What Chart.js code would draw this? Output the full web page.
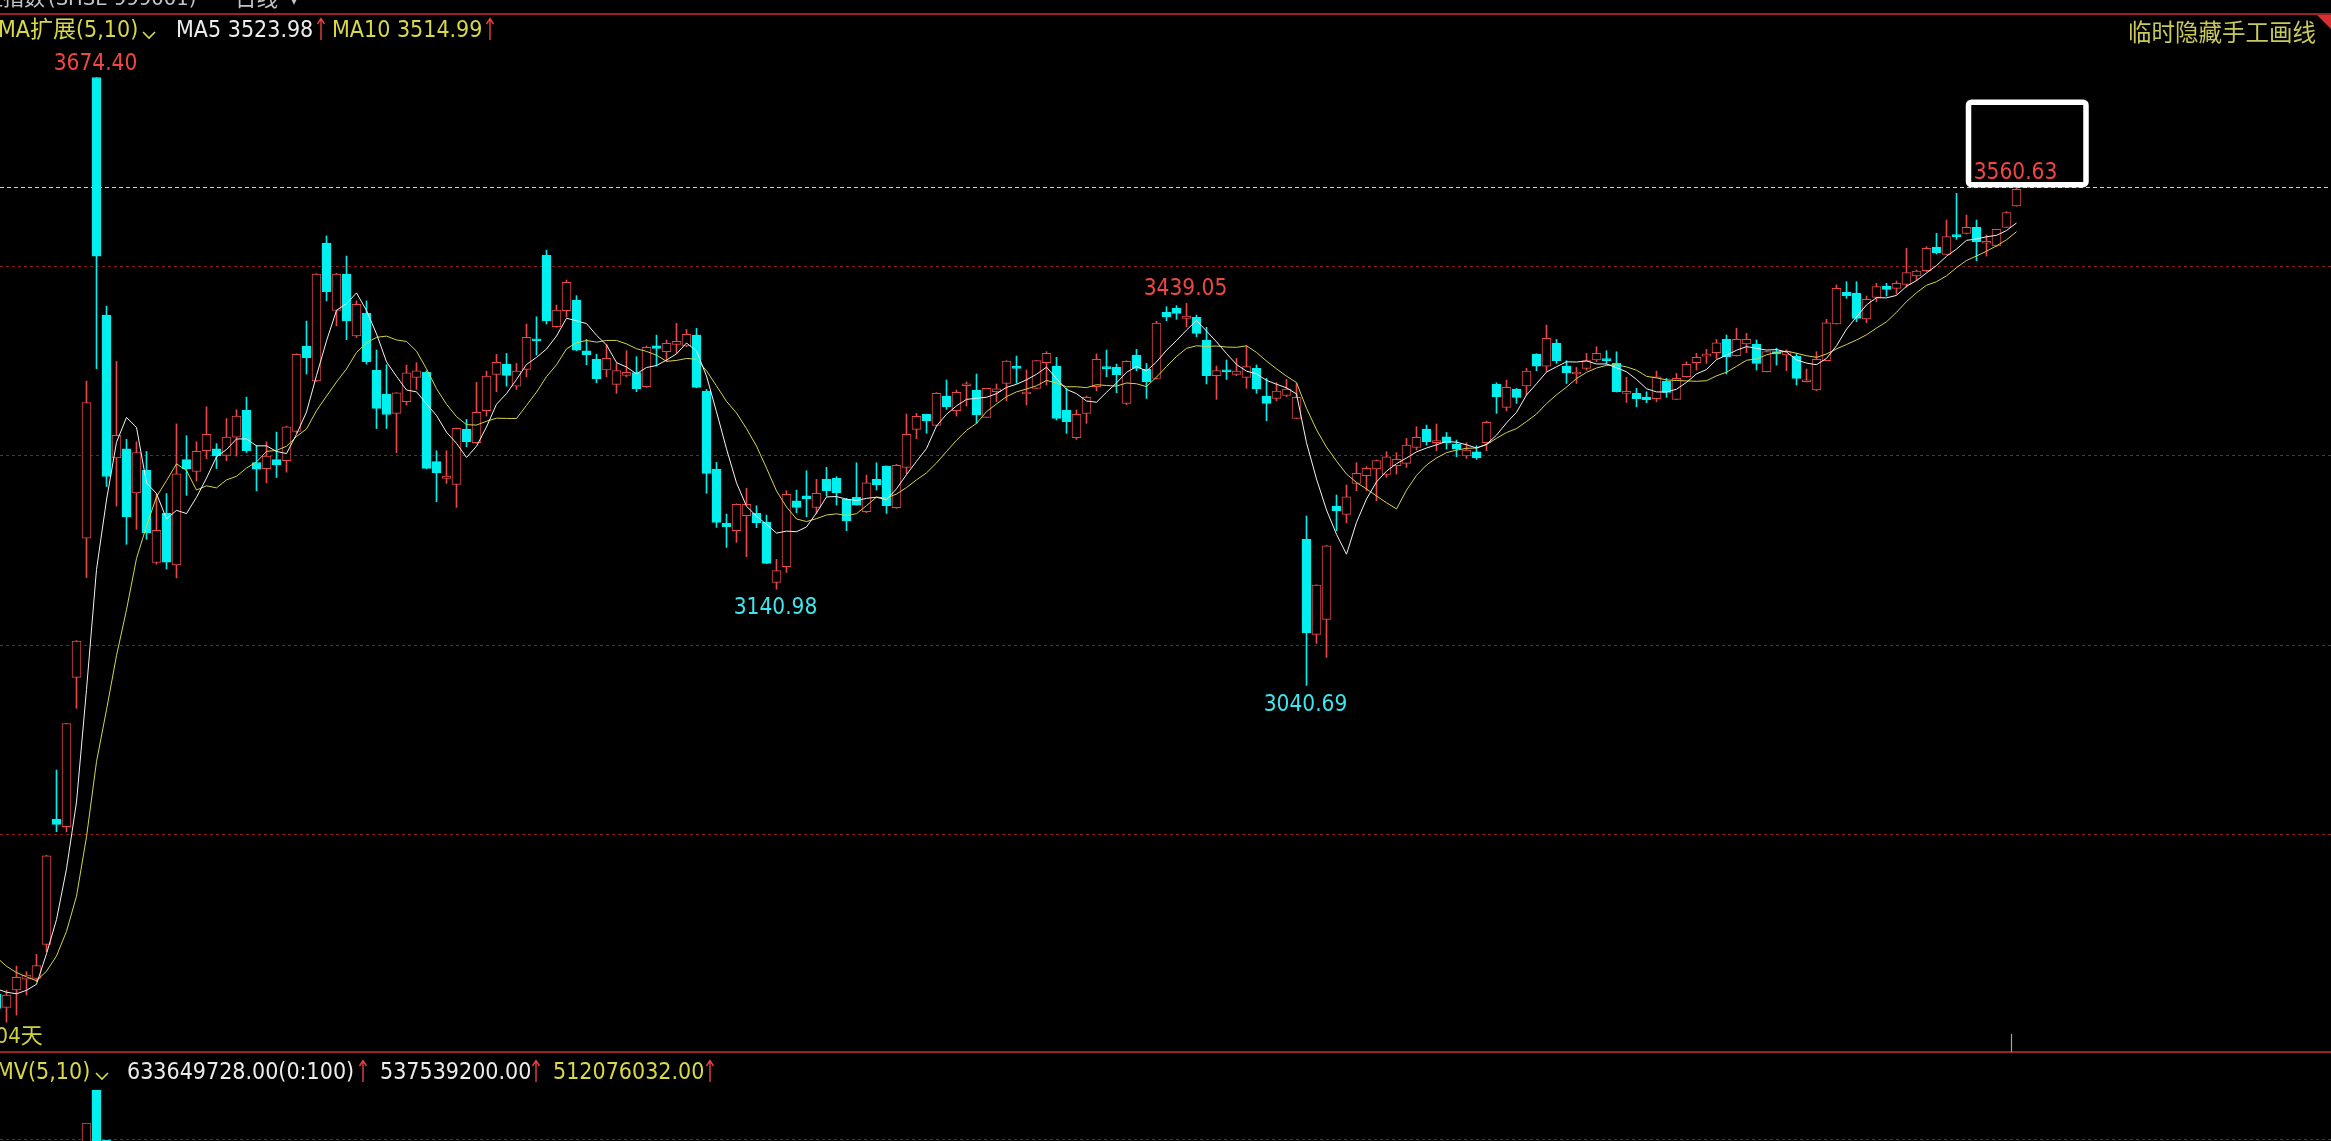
<!DOCTYPE html>
<html lang="zh-CN">
<head>
<meta charset="utf-8">
<script src="https://cdn.jsdelivr.net/npm/chart.js@4.4.1/dist/chart.umd.min.js"></script>
<style>
  html, body { margin: 0; padding: 0; background: #000; }
  body { width: 2331px; height: 1141px; overflow: hidden; position: relative; }
  .t { position: absolute; white-space: pre; line-height: 1;
       font-family: "DejaVu Sans Condensed", "DejaVu Sans", "Noto Sans CJK SC", sans-serif;
       font-stretch: condensed; }
  .wide { font-family: "DejaVu Sans", "Noto Sans CJK SC", sans-serif; font-stretch: normal; }
  .hline { position: absolute; left: 0; width: 2331px; }
  #mainBox { position: absolute; left: 0; top: 15px; width: 2331px; height: 1037px; }
  #volBox { position: absolute; left: 0; top: 1082px; width: 2331px; height: 296px; }
</style>
</head>
<body>
<div class="hline" style="top:13px;height:2px;background:#9a2222"></div>
<div class="hline" style="top:1051px;height:2px;background:#9a2222"></div>
<svg style="position:absolute;left:2317px;top:15px" width="14" height="14"><polygon points="0,0 14,0 14,14" fill="#d83030"/></svg>
<div id="mainBox"><canvas id="kline" width="2331" height="1037"></canvas></div>
<div id="volBox"><canvas id="vol" width="2331" height="296"></canvas></div>
<script>
// daily candles, index 0 = the half hidden one on the left edge
const prevCloses = [2811, 2802, 2784, 2788, 2765, 2736, 2744, 2721, 2717];

const opens = [
  2719, 2705.1, 2723.1, 2734.3, 2735.3, 2770.7, 2901.1, 2893.4, 3049.1, 3194.1,
  3674.4, 3426.8, 3277.9, 3287.2, 3241.4, 3264.9, 3168.8, 3220.2, 3166.2, 3276.0,
  3263.8, 3285.3, 3287.2, 3280.5, 3299.5, 3327.4, 3273.1, 3266.7, 3276.0, 3274.9,
  3305.4, 3394.4, 3358.1, 3501.7, 3431.5, 3469.6, 3405.0, 3428.6, 3369.2, 3344.3,
  3324.3, 3336.4, 3361.8, 3367.0, 3273.9, 3256.5, 3250.2, 3307.6, 3293.7, 3327.0,
  3364.9, 3375.7, 3352.7, 3370.1, 3402.1, 3489.0, 3414.6, 3431.3, 3442.4, 3389.4,
  3380.9, 3369.5, 3354.5, 3363.9, 3366.7, 3352.1, 3394.8, 3388.6, 3396.2, 3394.5,
  3405.9, 3347.6, 3265.9, 3209.6, 3201.9, 3217.6, 3220.0, 3210.6, 3148.1, 3164.4,
  3233.2, 3238.4, 3226.3, 3255.5, 3256.5, 3234.6, 3236.7, 3221.8, 3255.5, 3269.4,
  3225.9, 3268.0, 3307.6, 3323.3, 3311.8, 3342.4, 3327.1, 3353.1, 3348.6, 3320.1,
  3346.9, 3355.6, 3373.0, 3344.5, 3350.4, 3377.1, 3373.6, 3327.8, 3298.9, 3324.3,
  3352.1, 3372.6, 3372.3, 3334.7, 3385.1, 3370.2, 3360.6, 3429.6, 3433.8, 3423.3,
  3424.4, 3400.8, 3363.6, 3369.5, 3365.0, 3361.8, 3371.2, 3342.4, 3339.9, 3343.1,
  3319.1, 3193.0, 3093.9, 3109.6, 3227.7, 3219.0, 3251.3, 3259.3, 3266.3, 3260.7,
  3269.7, 3272.2, 3288.9, 3308.0, 3293.7, 3299.9, 3292.0, 3279.8, 3284.3, 3293.7,
  3354.8, 3330.5, 3349.6, 3352.8, 3386.1, 3373.6, 3397.2, 3373.6, 3365.3, 3371.2,
  3379.9, 3380.6, 3376.4, 3345.1, 3345.1, 3341.3, 3339.5, 3358.0, 3338.8, 3362.5,
  3377.1, 3384.0, 3387.5, 3401.5, 3384.4, 3396.6, 3396.6, 3367.8, 3388.6, 3385.1,
  3384.1, 3357.3, 3348.7, 3379.2, 3417.5, 3450.5, 3449.4, 3422.7, 3445.3, 3457.1,
  3454.6, 3458.8, 3467.5, 3473.1, 3497.4, 3490.1, 3509.9, 3512.0, 3518.2, 3501.6,
  3498.8, 3518.2, 3540.5
];
const highs = [
  2722, 2723.1, 2748.1, 2742.2, 2760.3, 2863.5, 2952.5, 3001.1, 3087.5, 3357.9,
  3674.4, 3436.1, 3378.4, 3297.3, 3294.7, 3284.6, 3240.7, 3240.7, 3313.3, 3301.0,
  3294.7, 3331.1, 3292.8, 3318.9, 3328.1, 3341.2, 3290.9, 3294.7, 3304.7, 3311.0,
  3386.5, 3420.5, 3470.0, 3509.3, 3470.3, 3488.3, 3441.5, 3441.5, 3390.3, 3375.0,
  3345.8, 3374.6, 3377.1, 3368.7, 3285.3, 3285.3, 3309.0, 3318.0, 3356.6, 3368.4,
  3385.8, 3386.8, 3376.4, 3417.4, 3425.0, 3494.5, 3437.2, 3463.3, 3447.0, 3401.4,
  3386.0, 3396.2, 3376.4, 3389.6, 3383.4, 3394.5, 3405.9, 3400.7, 3418.1, 3411.8,
  3412.9, 3349.3, 3273.2, 3219.3, 3230.0, 3246.1, 3228.0, 3218.3, 3172.1, 3243.7,
  3244.3, 3264.5, 3255.5, 3268.0, 3258.3, 3235.7, 3272.8, 3260.0, 3272.8, 3269.6,
  3271.1, 3323.6, 3324.3, 3323.5, 3345.9, 3359.1, 3348.6, 3357.0, 3365.3, 3350.6,
  3354.9, 3379.3, 3384.1, 3369.5, 3379.5, 3388.6, 3382.7, 3350.4, 3327.8, 3342.4,
  3386.2, 3390.3, 3375.7, 3379.2, 3391.0, 3376.4, 3420.4, 3435.5, 3436.6, 3439.05,
  3426.8, 3414.0, 3373.6, 3379.9, 3381.6, 3394.5, 3374.7, 3360.8, 3356.3, 3359.7,
  3355.6, 3217.3, 3145.6, 3186.6, 3239.2, 3249.6, 3272.9, 3268.7, 3275.7, 3284.3,
  3283.3, 3298.2, 3310.4, 3312.1, 3313.2, 3304.4, 3296.5, 3293.7, 3290.5, 3316.3,
  3356.2, 3359.0, 3350.3, 3371.2, 3386.5, 3416.3, 3401.4, 3379.2, 3372.2, 3386.8,
  3393.8, 3389.6, 3388.5, 3361.8, 3350.3, 3346.8, 3368.4, 3360.7, 3365.9, 3378.1,
  3386.8, 3391.0, 3401.4, 3406.0, 3412.9, 3407.7, 3400.8, 3388.9, 3392.1, 3390.4,
  3386.9, 3370.5, 3388.6, 3422.3, 3458.1, 3461.6, 3461.6, 3446.6, 3459.9, 3459.9,
  3462.3, 3496.3, 3473.8, 3498.1, 3512.0, 3525.9, 3553.7, 3531.1, 3525.9, 3510.2,
  3516.3, 3534.6, 3560.63
];
const lows = [
  2701, 2689.7, 2697.0, 2717.9, 2731.8, 2763.0, 2888.2, 2888.0, 3016.8, 3153.2,
  3371.0, 3248.1, 3227.6, 3187.8, 3203.5, 3193.0, 3167.0, 3162.0, 3152.8, 3238.8,
  3253.7, 3277.1, 3266.7, 3274.9, 3279.8, 3283.5, 3243.6, 3251.8, 3257.4, 3263.0,
  3303.9, 3365.3, 3357.5, 3441.7, 3415.5, 3401.1, 3403.4, 3375.6, 3308.4, 3308.5,
  3283.3, 3332.9, 3349.3, 3266.5, 3232.2, 3251.3, 3226.3, 3289.5, 3293.0, 3321.5,
  3346.8, 3352.7, 3349.3, 3362.5, 3385.1, 3417.4, 3414.0, 3425.0, 3389.5, 3375.0,
  3356.2, 3362.5, 3345.1, 3362.5, 3346.9, 3351.4, 3373.6, 3378.1, 3386.8, 3393.8,
  3351.0, 3240.9, 3205.4, 3184.6, 3189.8, 3174.8, 3205.1, 3167.5, 3140.98, 3158.5,
  3220.7, 3216.5, 3220.0, 3238.1, 3228.7, 3202.0, 3228.5, 3220.7, 3244.4, 3220.0,
  3225.3, 3261.0, 3297.9, 3303.5, 3311.1, 3328.5, 3321.5, 3331.9, 3313.9, 3319.8,
  3336.5, 3337.5, 3355.6, 3333.0, 3350.0, 3353.8, 3317.3, 3303.5, 3297.2, 3313.9,
  3347.9, 3362.5, 3345.9, 3333.4, 3368.8, 3339.9, 3360.0, 3420.9, 3422.3, 3414.6,
  3404.2, 3354.9, 3338.9, 3359.7, 3363.6, 3350.4, 3345.2, 3316.7, 3337.5, 3341.7,
  3318.8, 3040.69, 3084.5, 3069.9, 3202.0, 3210.3, 3243.7, 3243.7, 3233.3, 3257.6,
  3261.1, 3268.0, 3286.1, 3291.3, 3285.4, 3287.0, 3279.1, 3277.3, 3276.3, 3285.3,
  3324.3, 3327.0, 3334.7, 3343.4, 3368.7, 3367.7, 3376.4, 3355.5, 3355.5, 3369.4,
  3378.1, 3375.7, 3346.5, 3335.7, 3331.2, 3335.4, 3336.4, 3341.0, 3338.5, 3361.8,
  3369.4, 3376.4, 3381.6, 3365.3, 3384.0, 3387.6, 3369.5, 3367.5, 3374.7, 3368.8,
  3353.9, 3357.0, 3347.9, 3379.0, 3417.3, 3444.2, 3419.9, 3418.8, 3440.7, 3446.6,
  3448.7, 3455.7, 3462.6, 3472.0, 3490.4, 3490.0, 3505.7, 3511.3, 3483.5, 3488.3,
  3498.5, 3518.0, 3540.2
];
const closes = [
  2704, 2717.9, 2736.3, 2738.8, 2748.5, 2863.1, 2895.8, 3000.9, 3087.0, 3335.6,
  3488.3, 3258.5, 3301.4, 3216.5, 3283.5, 3199.7, 3202.3, 3169.2, 3261.2, 3266.7,
  3284.6, 3302.5, 3279.8, 3299.5, 3321.5, 3285.3, 3266.0, 3279.8, 3270.5, 3310.3,
  3385.8, 3382.4, 3469.6, 3451.1, 3469.6, 3421.0, 3438.0, 3378.2, 3329.5, 3323.1,
  3345.8, 3366.6, 3368.7, 3266.9, 3262.4, 3258.9, 3308.6, 3294.7, 3325.3, 3363.2,
  3377.4, 3363.9, 3368.4, 3403.5, 3400.0, 3420.9, 3432.0, 3460.8, 3390.3, 3385.5,
  3360.1, 3381.6, 3368.8, 3367.0, 3350.0, 3393.1, 3392.0, 3397.2, 3399.3, 3406.6,
  3351.4, 3261.7, 3210.6, 3206.1, 3229.4, 3229.4, 3210.3, 3167.9, 3160.3, 3239.8,
  3226.3, 3235.3, 3240.9, 3243.7, 3241.6, 3212.4, 3228.7, 3252.0, 3249.6, 3228.0,
  3270.1, 3302.4, 3321.2, 3316.7, 3345.1, 3331.3, 3346.2, 3354.9, 3322.6, 3350.4,
  3350.0, 3378.9, 3371.2, 3345.9, 3379.2, 3386.9, 3319.1, 3315.6, 3323.3, 3341.0,
  3380.6, 3370.9, 3364.3, 3378.5, 3371.2, 3357.3, 3418.5, 3425.1, 3428.6, 3425.8,
  3407.7, 3363.6, 3368.8, 3367.7, 3368.4, 3373.0, 3349.7, 3334.7, 3347.6, 3349.7,
  3341.0, 3095.6, 3145.3, 3186.3, 3222.8, 3237.4, 3261.8, 3267.0, 3275.0, 3279.1,
  3276.3, 3291.3, 3299.3, 3294.8, 3295.8, 3293.7, 3287.4, 3286.0, 3278.0, 3314.9,
  3341.6, 3351.4, 3340.9, 3368.4, 3373.6, 3402.4, 3379.2, 3366.6, 3367.3, 3379.2,
  3386.8, 3379.2, 3346.8, 3346.1, 3339.5, 3338.5, 3362.5, 3346.1, 3360.7, 3375.3,
  3382.6, 3385.1, 3397.9, 3383.4, 3401.5, 3401.5, 3376.4, 3388.6, 3386.2, 3388.6,
  3360.8, 3359.1, 3380.6, 3418.8, 3454.6, 3447.0, 3423.4, 3443.2, 3456.4, 3453.6,
  3459.9, 3471.0, 3472.7, 3496.3, 3491.8, 3508.5, 3508.5, 3518.2, 3503.3, 3503.3,
  3516.1, 3533.5, 3557.8
];
// volume, 100 million lots
const volumes = [
  2.5, 2.6, 3.2, 3.0, 3.1, 5.7, 6.9, 7.2, 8.9, 11.63,
  13.13, 10.85, 8.6, 7.1, 6.2, 6.8, 6.0, 6.1, 7.6, 7.2,
  6.4, 6.6, 6.0, 5.8, 7.0, 7.1, 6.1, 6.6, 6.5, 6.8,
  8.3, 8.6, 9.0, 9.6, 8.1, 8.3, 7.0, 7.1, 6.6, 6.3,
  6.2, 6.0, 5.8, 7.3, 6.0, 5.5, 6.1, 5.2, 5.5, 5.6,
  5.3, 5.4, 4.9, 5.4, 5.3, 7.0, 5.6, 5.9, 6.2, 4.8,
  4.9, 4.6, 4.5, 4.7, 4.4, 4.6, 4.5, 4.3, 4.6, 4.4,
  5.0, 5.3, 5.2, 4.6, 4.2, 4.8, 4.2, 4.4, 4.3, 5.2,
  4.2, 4.4, 4.6, 4.3, 4.1, 4.0, 4.3, 4.4, 4.7, 4.6,
  4.7, 5.3, 5.1, 4.8, 5.1, 5.3, 4.8, 5.7, 5.6, 5.3,
  5.2, 5.9, 5.6, 5.0, 5.1, 5.7, 5.6, 4.9, 4.6, 4.9,
  5.6, 5.1, 4.9, 4.8, 4.8, 4.8, 5.6, 5.5, 5.3, 4.9,
  4.7, 5.2, 4.3, 4.1, 3.9, 4.2, 4.0, 4.2, 3.6, 3.4,
  3.9, 6.8, 6.0, 6.2, 5.3, 4.1, 4.1, 3.7, 4.0, 3.5,
  3.2, 3.6, 3.7, 4.1, 3.7, 3.7, 3.5, 3.6, 3.9, 4.8,
  5.0, 4.8, 4.2, 4.8, 4.9, 5.2, 4.5, 3.9, 3.8, 3.9,
  4.2, 3.9, 4.2, 3.5, 3.6, 3.4, 3.9, 3.9, 3.7, 4.0,
  3.9, 3.8, 4.1, 4.6, 4.3, 4.1, 4.5, 4.0, 3.7, 3.9,
  4.3, 4.1, 4.3, 5.1, 5.8, 5.3, 5.5, 4.9, 4.7, 4.8,
  4.5, 5.2, 4.4, 4.6, 4.7, 5.0, 5.3, 4.76, 5.4, 5.0,
  5.1, 5.0, 6.34
];

const gridPrices = [3477.8, 3280.4, 3083.1, 2885.8];
const volGridValues = [10.9];
const priceTop = 3739.6, priceBottom = 2658.5;
const volTop = 13.5;
// labelled extremes: index into the arrays, which end
const marks = [
  { i: 10, key: 'high' },
  { i: 119, key: 'high' },
  { i: 78, key: 'low' },
  { i: 131, key: 'low' },
  { i: 202, key: 'high', boxed: true }
];

const upColor = '#e84848';
const downColor = '#00f0f0';
const gridColor = '#8a1c1c';
const numFont = 22.5;
const legendFont = 23;

function put(text, left, baseline, color, size, align, cls) {
  const d = document.createElement('div');
  d.className = 't' + (cls ? ' ' + cls : '');
  d.textContent = text;
  d.style.color = color;
  d.style.fontSize = size + 'px';
  d.style.top = (baseline - 0.846 * size) + 'px';
  if (align === 'right') {
    d.style.right = (2331 - left) + 'px';
  } else {
    d.style.left = left + 'px';
    if (align === 'center') d.style.transform = 'translateX(-50%)';
  }
  document.body.appendChild(d);
  return d;
}

function chevron(left, top) {
  const s = document.createElementNS('http://www.w3.org/2000/svg', 'svg');
  s.setAttribute('width', 16); s.setAttribute('height', 10);
  s.style.position = 'absolute'; s.style.left = left + 'px'; s.style.top = top + 'px';
  s.innerHTML = '<polyline points="2,2 8,8 14,2" fill="none" stroke="#d8d848" stroke-width="1.6"/>';
  document.body.appendChild(s);
}
function upArrow(left, top) {
  const s = document.createElementNS('http://www.w3.org/2000/svg', 'svg');
  s.setAttribute('width', 10); s.setAttribute('height', 24);
  s.style.position = 'absolute'; s.style.left = left + 'px'; s.style.top = top + 'px';
  s.innerHTML = '<path d="M5 2 L5 23 M1.5 7 L5 1.5 L8.5 7" fill="none" stroke="#e84040" stroke-width="1.4"/>';
  document.body.appendChild(s);
}

function movingAvg(n) {
  const all = prevCloses.concat(closes);
  return closes.map((c, i) => {
    const j = i + prevCloses.length;
    let s = 0;
    for (let t = j - n + 1; t <= j; t++) s += all[t];
    return { x: i, y: s / n };
  });
}

const isUp = closes.map((c, i) => c >= opens[i]);
const xMin = 0.35, xMax = 233.45;

const overlay = {
  id: 'overlay',
  beforeDatasetsDraw(chart) {
    const { ctx, chartArea: a, scales: { x, y } } = chart;
    ctx.save();
    ctx.lineWidth = 1;
    ctx.strokeStyle = gridColor;
    ctx.setLineDash([3, 3]);
    gridPrices.forEach(p => {
      const yy = Math.round(y.getPixelForValue(p)) + 0.5;
      ctx.beginPath(); ctx.moveTo(a.left, yy); ctx.lineTo(a.right, yy); ctx.stroke();
    });
    // dashed line at the latest high
    const last = highs.length - 1;
    const ly = Math.round(y.getPixelForValue(highs[last])) + 0.5;
    ctx.strokeStyle = '#d0d0d0';
    ctx.setLineDash([4, 3]);
    ctx.beginPath(); ctx.moveTo(a.left, ly); ctx.lineTo(a.right, ly); ctx.stroke();
    ctx.restore();
  },
  afterDatasetsDraw(chart) {
    const { ctx, chartArea: a, scales: { x, y } } = chart;
    ctx.save();
    marks.filter(m => m.boxed).forEach(m => {
      const cx = x.getPixelForValue(m.i);
      const cy = y.getPixelForValue(highs[m.i]);
      ctx.strokeStyle = '#ffffff';
      ctx.lineWidth = 5.5;
      ctx.lineJoin = 'round';
      ctx.beginPath();
      ctx.roundRect(cx - 48, cy - 84.5, 117.5, 82.5, 3);
      ctx.stroke();
    });
    // small marker on the time axis under the last bar
    const tx = Math.round(x.getPixelForValue(highs.length - 1) - 5.5) + 0.5;
    ctx.strokeStyle = '#a0a0a0';
    ctx.lineWidth = 1.2;
    ctx.beginPath(); ctx.moveTo(tx, a.bottom - 18); ctx.lineTo(tx, a.bottom); ctx.stroke();
    ctx.restore();
  }
};

const mainChart = new Chart(document.getElementById('kline'), {
  type: 'bar',
  data: {
    datasets: [
      {
        type: 'line', data: movingAvg(5), borderColor: '#f2f2f2', borderWidth: 1,
        pointRadius: 0, tension: 0, order: -2
      },
      {
        type: 'line', data: movingAvg(10), borderColor: '#d4d44a', borderWidth: 1,
        pointRadius: 0, tension: 0, order: -1
      },
      {
        data: opens.map((o, i) => ({ x: i, y: [o, closes[i]] })),
        backgroundColor: isUp.map(u => u ? '#000000' : downColor),
        borderColor: isUp.map(u => u ? upColor : downColor),
        borderWidth: 1, borderSkipped: false, barThickness: 9, minBarLength: 2,
        grouped: false, order: 0
      },
      {
        data: highs.map((h, i) => ({ x: i, y: [lows[i], h] })),
        backgroundColor: isUp.map(u => u ? upColor : downColor),
        borderWidth: 0, barThickness: 1, grouped: false, order: 1
      }
    ]
  },
  options: {
    responsive: false,
    animation: false,
    events: [],
    layout: { padding: 0 },
    plugins: { legend: { display: false }, tooltip: { enabled: false } },
    scales: {
      x: { type: 'linear', min: xMin, max: xMax, display: false, offset: false },
      y: { min: priceBottom, max: priceTop, display: false }
    }
  },
  plugins: [overlay]
});

const volOverlay = {
  id: 'volOverlay',
  beforeDatasetsDraw(chart) {
    const { ctx, chartArea: a, scales: { y } } = chart;
    ctx.save();
    ctx.strokeStyle = gridColor;
    ctx.lineWidth = 1;
    ctx.setLineDash([3, 3]);
    volGridValues.forEach(v => {
      const yy = Math.round(y.getPixelForValue(v)) + 0.5;
      ctx.beginPath(); ctx.moveTo(a.left, yy); ctx.lineTo(a.right, yy); ctx.stroke();
    });
    ctx.restore();
  }
};

new Chart(document.getElementById('vol'), {
  type: 'bar',
  data: {
    datasets: [{
      data: volumes.map((v, i) => ({ x: i, y: v })),
      backgroundColor: isUp.map(u => u ? '#000000' : downColor),
      borderColor: isUp.map(u => u ? upColor : downColor),
      borderWidth: 1, borderSkipped: false, barThickness: 9, grouped: false
    }]
  },
  options: {
    responsive: false,
    animation: false,
    events: [],
    layout: { padding: 0 },
    plugins: { legend: { display: false }, tooltip: { enabled: false } },
    scales: {
      x: { type: 'linear', min: xMin, max: xMax, display: false, offset: false },
      y: { min: 0, max: volTop, display: false }
    }
  },
  plugins: [volOverlay]
});

// extreme value labels
marks.forEach(m => {
  const v = m.key === 'high' ? highs[m.i] : lows[m.i];
  const px = mainChart.scales.x.getPixelForValue(m.i) - 1;
  const py = 15 + mainChart.scales.y.getPixelForValue(v);
  const cy = m.key === 'high' ? py - 16 : py + 17;
  put(v.toFixed(2), px, cy + 0.365 * numFont, m.key === 'high' ? '#f04646' : '#3ee6ee', numFont, 'center');
});

// header, cut off at the top edge
put('上证指数', 45, 6, '#c4c4c4', 21, 'right', 'wide');
put('(SHSE 999001)', 48, 6, '#c4c4c4', 19.6, null, 'wide');
put('日线', 235, 6, '#c4c4c4', 21.5, null, 'wide');
put('▾', 290, 6, '#c4c4c4', 16, null, 'wide');

// legends
put('MA扩展(5,10)', -2, 37.7, '#d8d848', legendFont);
chevron(141, 30);
put('MA5 3523.98', 176, 37.7, '#ececec', legendFont);
upArrow(316, 17);
put('MA10 3514.99', 332, 37.7, '#d8d848', legendFont);
upArrow(485, 17);
put('临时隐藏手工画线', 2316, 41.7, '#c8c85c', 23.5, 'right');
put('204天', -17, 1044, '#d0d040', 22);
put('MV(5,10)', -4, 1079, '#d8d848', legendFont);
chevron(94, 1071);
put('633649728.00(0:100)', 127, 1079, '#ececec', legendFont);
upArrow(358, 1059);
put('537539200.00', 380, 1079, '#ececec', legendFont);
upArrow(531, 1059);
put('512076032.00', 553, 1079, '#d8d848', legendFont);
upArrow(705, 1059);
</script>
</body>
</html>
